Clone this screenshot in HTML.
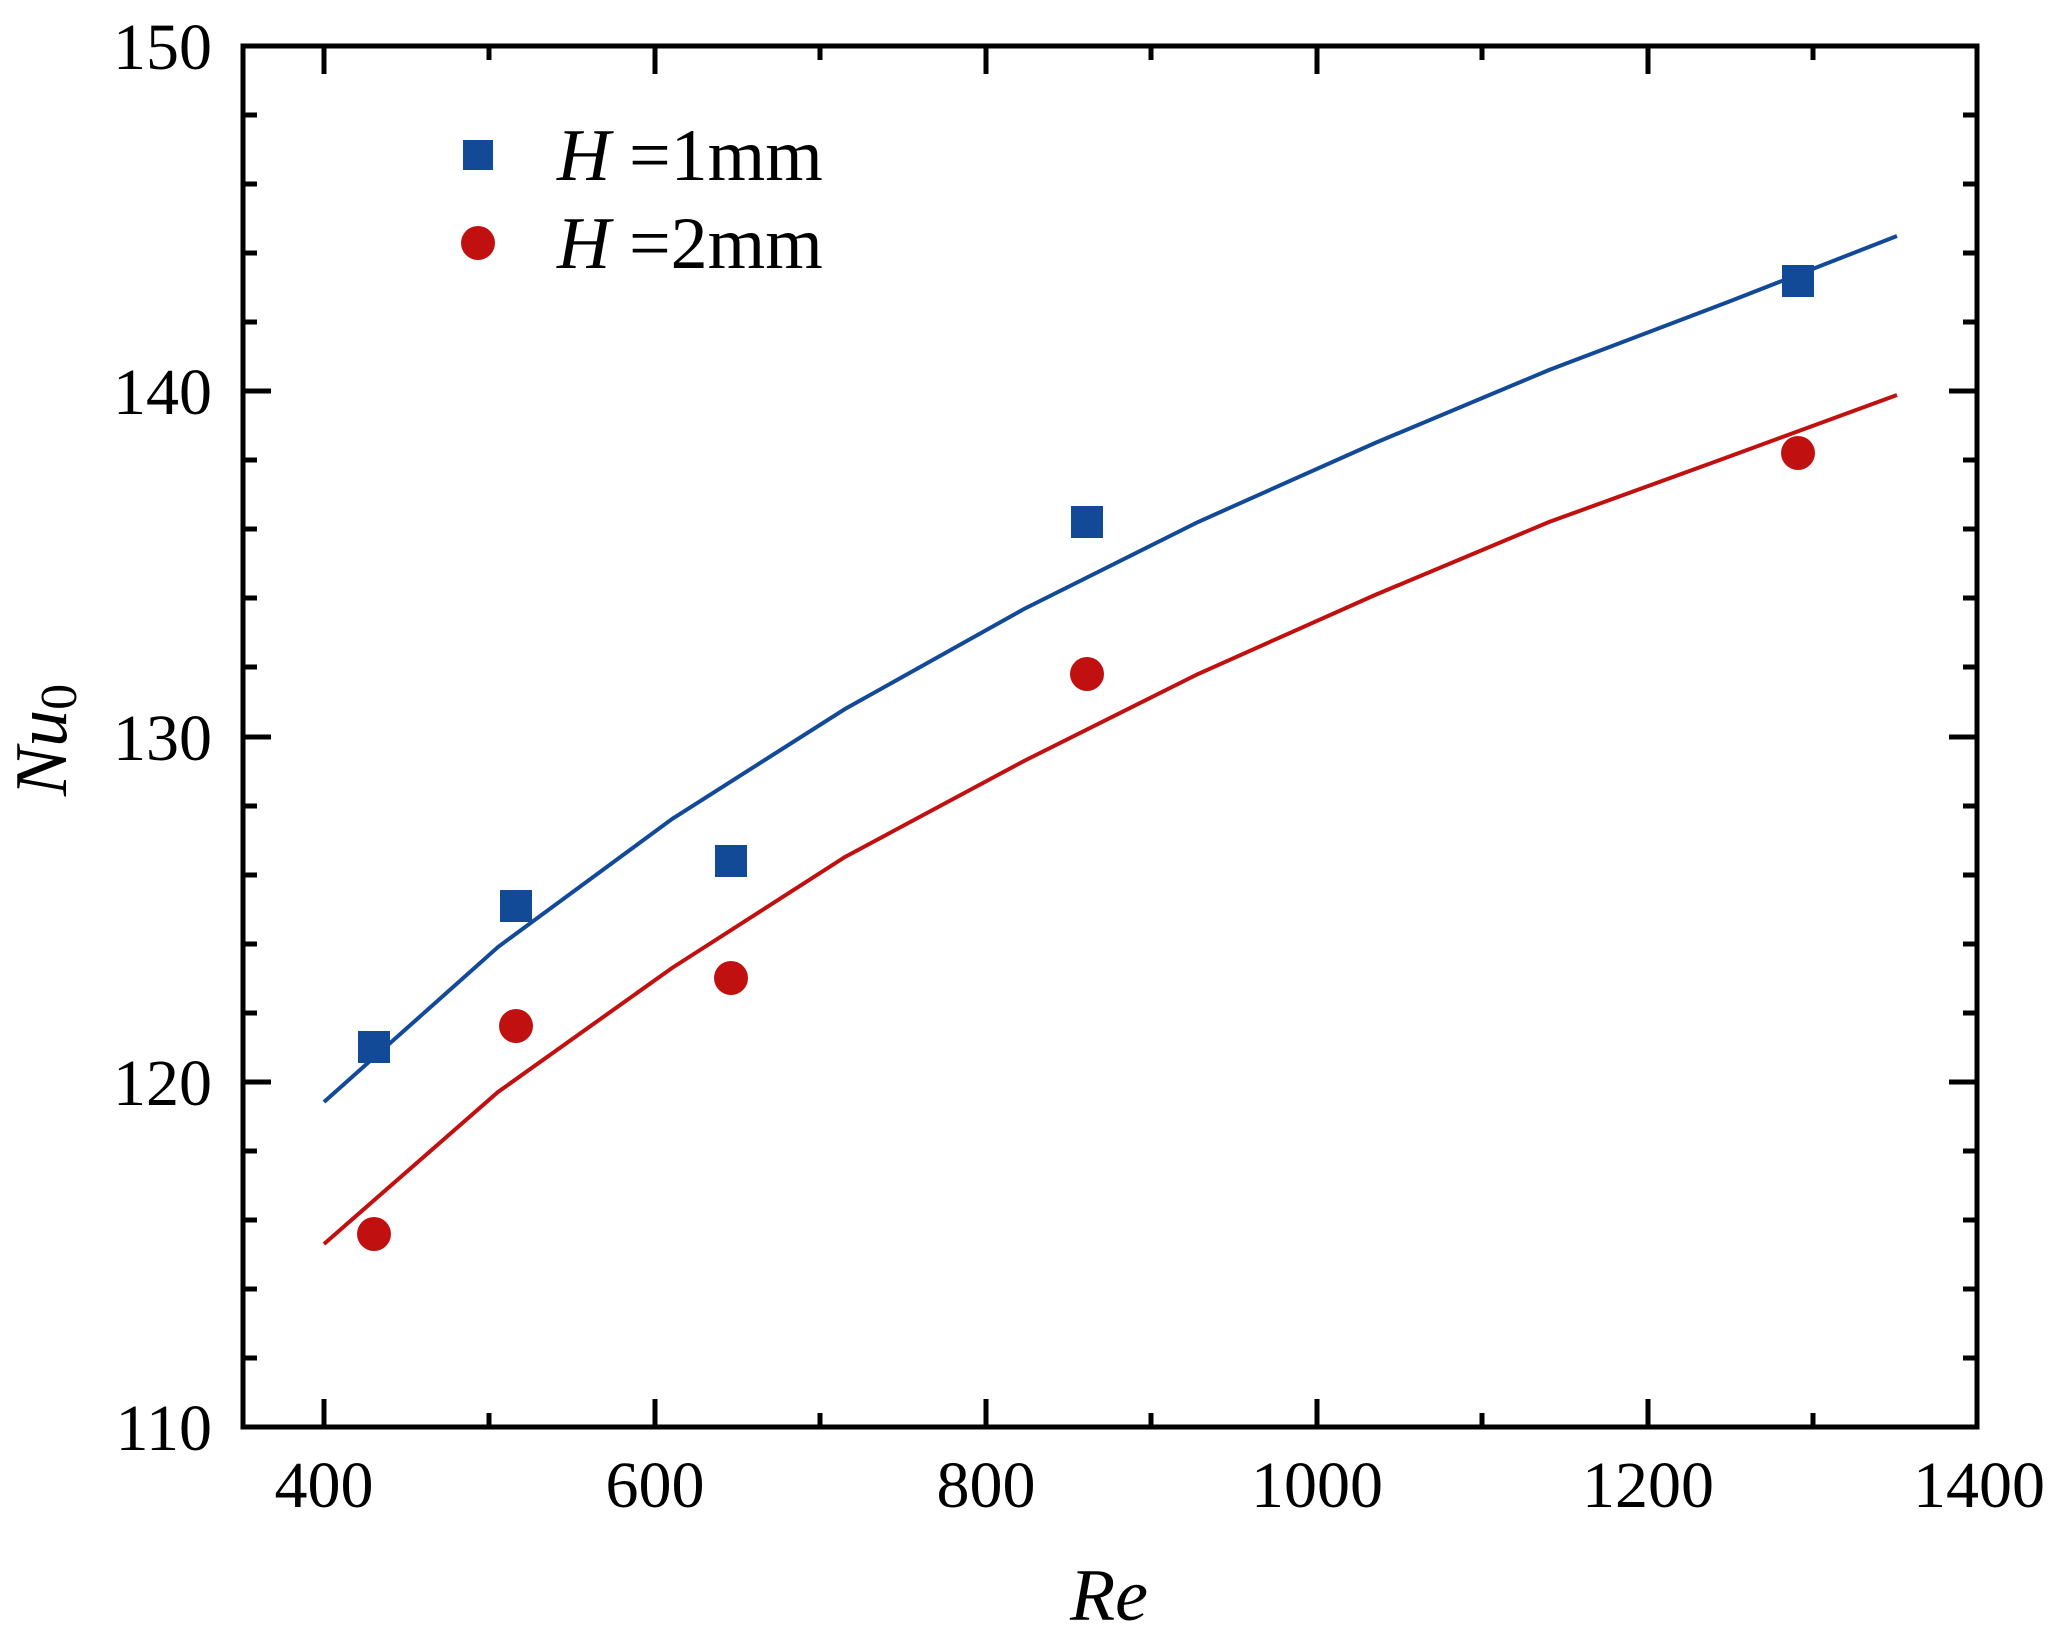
<!DOCTYPE html>
<html><head><meta charset="utf-8"><style>html,body{margin:0;padding:0;background:#fff}svg{display:block}text{font-family:"Liberation Serif","Times New Roman",serif}</style></head>
<body>
<svg width="2056" height="1639" viewBox="0 0 2056 1639" xmlns="http://www.w3.org/2000/svg">
<g stroke="#000" stroke-width="5">
<line x1="324" y1="1427" x2="324" y2="1399"/><line x1="324" y1="46" x2="324" y2="74"/>
<line x1="489" y1="1427" x2="489" y2="1413"/><line x1="489" y1="46" x2="489" y2="60"/>
<line x1="655" y1="1427" x2="655" y2="1399"/><line x1="655" y1="46" x2="655" y2="74"/>
<line x1="820" y1="1427" x2="820" y2="1413"/><line x1="820" y1="46" x2="820" y2="60"/>
<line x1="986" y1="1427" x2="986" y2="1399"/><line x1="986" y1="46" x2="986" y2="74"/>
<line x1="1151" y1="1427" x2="1151" y2="1413"/><line x1="1151" y1="46" x2="1151" y2="60"/>
<line x1="1317" y1="1427" x2="1317" y2="1399"/><line x1="1317" y1="46" x2="1317" y2="74"/>
<line x1="1482" y1="1427" x2="1482" y2="1413"/><line x1="1482" y1="46" x2="1482" y2="60"/>
<line x1="1648" y1="1427" x2="1648" y2="1399"/><line x1="1648" y1="46" x2="1648" y2="74"/>
<line x1="1813" y1="1427" x2="1813" y2="1413"/><line x1="1813" y1="46" x2="1813" y2="60"/>
<g id="yt">
<line x1="243" y1="1358" x2="257" y2="1358"/><line x1="243" y1="1289" x2="257" y2="1289"/><line x1="243" y1="1220" x2="257" y2="1220"/><line x1="243" y1="1151" x2="257" y2="1151"/>
<line x1="243" y1="1082" x2="271" y2="1082"/>
<line x1="243" y1="1013" x2="257" y2="1013"/><line x1="243" y1="944" x2="257" y2="944"/><line x1="243" y1="875" x2="257" y2="875"/><line x1="243" y1="806" x2="257" y2="806"/>
<line x1="243" y1="737" x2="271" y2="737"/>
<line x1="243" y1="667" x2="257" y2="667"/><line x1="243" y1="598" x2="257" y2="598"/><line x1="243" y1="529" x2="257" y2="529"/><line x1="243" y1="460" x2="257" y2="460"/>
<line x1="243" y1="391" x2="271" y2="391"/>
<line x1="243" y1="322" x2="257" y2="322"/><line x1="243" y1="253" x2="257" y2="253"/><line x1="243" y1="184" x2="257" y2="184"/><line x1="243" y1="115" x2="257" y2="115"/>
</g>
<use href="#yt" transform="translate(2220,0) scale(-1,1)"/>
<rect x="243" y="46" width="1734" height="1381" fill="none"/>
</g>
<g font-size="66" text-anchor="middle">
<text x="324" y="1507">400</text><text x="655" y="1507">600</text><text x="986" y="1507">800</text>
<text x="1317" y="1507">1000</text><text x="1648" y="1507">1200</text><text x="1979" y="1507">1400</text>
</g>
<g font-size="66" text-anchor="end">
<text x="212" y="1450">110</text><text x="212" y="1105">120</text><text x="212" y="760">130</text>
<text x="212" y="414">140</text><text x="212" y="69">150</text>
</g>
<text x="1109" y="1620" font-size="74" font-style="italic" text-anchor="middle">Re</text>
<text transform="translate(66,740) rotate(-90)" font-size="74" font-style="italic" text-anchor="middle">Nu<tspan font-style="normal" font-size="52" dy="10">0</tspan></text>
<polyline fill="none" stroke="#134a97" stroke-width="4" points="324,1102 498,947 672,819 845,709 1024,609 1198,522 1375,443 1549,370 1728,302 1897,236"/>
<polyline fill="none" stroke="#c01010" stroke-width="4" points="324,1244 498,1092 672,968 845,857 1024,761 1198,674 1375,595 1549,522 1728,457 1897,395"/>
<g fill="#134a97">
<rect x="358" y="1031" width="32" height="32"/>
<rect x="500" y="890" width="32" height="32"/>
<rect x="715" y="845" width="32" height="32"/>
<rect x="1071" y="506" width="32" height="32"/>
<rect x="1782" y="265" width="32" height="32"/>
<rect x="463" y="140" width="30" height="30"/>
</g>
<g fill="#c01010">
<circle cx="374" cy="1234" r="17"/>
<circle cx="516" cy="1026" r="17"/>
<circle cx="731" cy="978" r="17"/>
<circle cx="1087" cy="674" r="17"/>
<circle cx="1798" cy="453" r="17"/>
<circle cx="478" cy="243" r="17"/>
</g>
<g font-size="74">
<text x="557" y="180"><tspan font-style="italic">H</tspan> =1mm</text>
<text x="557" y="268"><tspan font-style="italic">H</tspan> =2mm</text>
</g>
</svg>
</body></html>
